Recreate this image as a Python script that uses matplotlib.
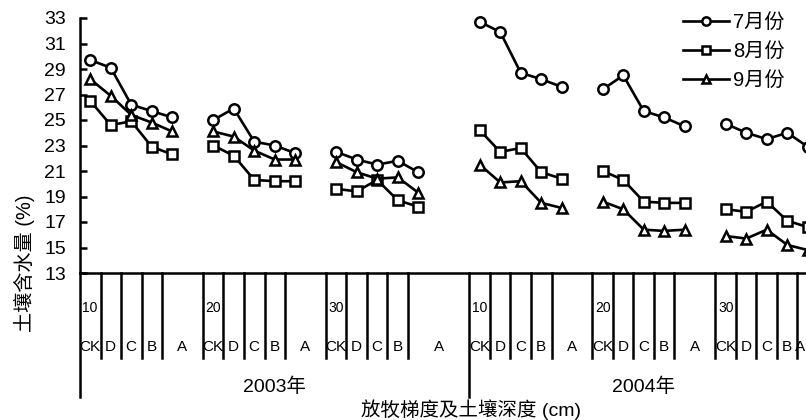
import numpy as np
import matplotlib
matplotlib.use('Agg')
import matplotlib.pyplot as plt
from matplotlib.transforms import blended_transform_factory

plt.rcParams['font.family'] = ['Liberation Sans', 'Noto Sans CJK SC']

years = ['2003年', '2004年']
depths = ['10', '20', '30']
grazing = ['CK', 'D', 'C', 'B', 'A']
months = ['7月份', '8月份', '9月份']

# 土壤含水量 (%): 2003年 10/20/30 cm, 2004年 10/20/30 cm, 每组 CK D C B A
jul = [29.7, 29.1, 26.2, 25.7, 25.2,
       25.0, 25.9, 23.3, 23.0, 22.4,
       22.5, 21.9, 21.5, 21.8, 20.9,
       32.7, 31.9, 28.7, 28.2, 27.6,
       27.4, 28.5, 25.7, 25.2, 24.5,
       24.7, 24.0, 23.5, 24.0, 22.9]
aug = [26.5, 24.6, 24.9, 22.9, 22.3,
       23.0, 22.2, 20.3, 20.2, 20.2,
       19.6, 19.4, 20.3, 18.7, 18.2,
       24.2, 22.5, 22.8, 20.9, 20.4,
       21.0, 20.3, 18.6, 18.5, 18.5,
       18.0, 17.8, 18.6, 17.1, 16.6]
sep = [28.2, 26.9, 25.4, 24.8, 24.1,
       24.1, 23.7, 22.6, 21.9, 21.9,
       21.7, 20.9, 20.4, 20.5, 19.3,
       21.5, 20.1, 20.2, 18.5, 18.1,
       18.6, 18.0, 16.4, 16.3, 16.4,
       15.9, 15.7, 16.4, 15.2, 14.8]

# 每组在类别轴上的起始位置 (组间留空)
group_start = [0, 6, 12, 19, 25, 31]
x_end = 36

fig = plt.figure(figsize=(8.06, 4.2), dpi=100)
ax = fig.add_axes([80 / 806, 147 / 420, 738 / 806, 255 / 420])

styles = [('o', jul), ('s', aug), ('^', sep)]
for k, (mk, vals) in enumerate(styles):
    for g, s in enumerate(group_start):
        xs = s + np.arange(5) + 0.5
        ax.plot(xs, vals[5 * g:5 * g + 5], '-', color='black', marker=mk,
                mfc='white', mec='black', ms=7.5, mew=1.8, lw=1.9,
                clip_on=False, label=months[k] if g == 0 else None)

ax.set_xlim(0, x_end)
ax.set_ylim(13, 33)
ax.set_yticks(np.arange(13, 34, 2))
ax.set_xticks([])
ax.tick_params(axis='y', direction='in', length=5, width=1.8,
               labelsize=14, pad=10)
ax.spines['top'].set_visible(False)
ax.spines['right'].set_visible(False)
ax.spines['left'].set_linewidth(1.8)
ax.spines['bottom'].set_linewidth(1.8)

# 坐标轴下方的分组标注
trans = blended_transform_factory(ax.transData, fig.transFigure)
y_top = 147 / 420
y_short = 62 / 420
y_long = 23 / 420
ends = group_start[1:] + [35.2]
for g, s in enumerate(group_start):
    bottom = y_long if g % 3 == 0 else y_short
    ax.plot([s, s], [y_top, bottom], color='black', lw=1.8,
            transform=trans, clip_on=False)
    for i in range(1, 5):
        ax.plot([s + i, s + i], [y_top, y_short], color='black', lw=1.8,
                transform=trans, clip_on=False)
    ax.text(s + 0.12, 112 / 420, depths[g % 3], transform=trans,
            ha='left', va='center', fontsize=10)
    for i, lab in enumerate(grazing):
        cx = s + i + 0.5 if i < 4 else (s + 4 + ends[g]) / 2
        ax.text(cx, 73 / 420, lab, transform=trans, ha='center',
                va='center', fontsize=11)

ax.text(9.5, 33 / 420, years[0], transform=trans, ha='center',
        va='center', fontsize=14)
ax.text(27.5, 33 / 420, years[1], transform=trans, ha='center',
        va='center', fontsize=14)

fig.text(471 / 806, 10 / 420, '放牧梯度及土壤深度 (cm)', ha='center',
         va='center', fontsize=14)
fig.text(24 / 806, 157 / 420, '土壤含水量 (%)', ha='center',
         va='center', rotation=90, fontsize=14.5)

ax.legend(loc='upper left', bbox_to_anchor=(683 / 806, 1 - 13 / 420),
          bbox_transform=fig.transFigure, frameon=False, borderpad=0,
          borderaxespad=0, handlelength=2.3, handletextpad=0.2,
          labelspacing=0.5, fontsize=14.5, markerscale=0.8)

fig.savefig('out.png', dpi=100)
